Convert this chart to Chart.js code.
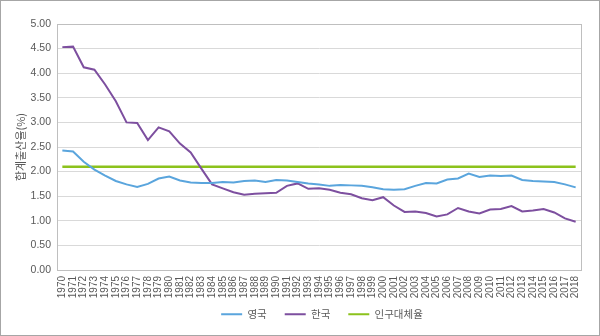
<!DOCTYPE html>
<html>
<head>
<meta charset="utf-8">
<script src="https://cdn.jsdelivr.net/npm/chart.js@4"></script>
<style>
  html, body { margin: 0; padding: 0; background: #fff; }
  #wrap { width: 600px; height: 336px; }
</style>
</head>
<body>
<div id="wrap"><canvas id="chart" width="600" height="336"></canvas></div>
<script>
const years = [];
for (let y = 1970; y <= 2018; y++) years.push(String(y));

// 영국 합계출산율
const ukRates = [
  2.43, 2.41, 2.20, 2.04, 1.92, 1.81, 1.74, 1.69, 1.75, 1.86,
  1.90, 1.82, 1.78, 1.77, 1.77, 1.79, 1.78, 1.81, 1.82, 1.79,
  1.83, 1.82, 1.79, 1.76, 1.74, 1.71, 1.73, 1.72, 1.71, 1.68,
  1.64, 1.63, 1.64, 1.71, 1.77, 1.76, 1.84, 1.86, 1.96, 1.89,
  1.92, 1.91, 1.92, 1.83, 1.81, 1.80, 1.79, 1.74, 1.68
];

// 한국 합계출산율
const koreaRates = [
  4.53, 4.54, 4.12, 4.07, 3.77, 3.43, 3.00, 2.99, 2.64, 2.90,
  2.82, 2.57, 2.39, 2.06, 1.74, 1.66, 1.58, 1.53, 1.55, 1.56,
  1.57, 1.71, 1.76, 1.65, 1.66, 1.63, 1.57, 1.54, 1.46, 1.42,
  1.48, 1.31, 1.18, 1.19, 1.16, 1.09, 1.13, 1.26, 1.19, 1.15,
  1.23, 1.24, 1.30, 1.19, 1.21, 1.24, 1.17, 1.05, 0.98
];

const replacementRate = 2.1;
const replacementLine = years.map(() => replacementRate);

const seriesNames = ['영국', '한국', '인구대체율'];

// plot frame + outer border
const frame = {
  id: 'frame',
  afterDraw(chart) {
    const { ctx, chartArea: a } = chart;
    ctx.save();
    ctx.strokeStyle = '#bfbfbf';
    ctx.lineWidth = 1;
    ctx.strokeRect(Math.round(a.left) + 0.5, Math.round(a.top) + 0.5,
      Math.round(a.right - a.left), Math.round(a.bottom - a.top));
    ctx.strokeStyle = '#a6a6a6';
    ctx.strokeRect(0.5, 0.5, chart.width - 1, chart.height - 1);
    ctx.restore();
  }
};

// pull the legend up a bit under the year labels
const legendNudge = {
  id: 'legendNudge',
  afterLayout(chart) {
    const l = chart.legend;
    l.top -= 9;
    l.bottom -= 9;
    l.left += 3;
    l.right += 3;
  }
};

const ctx = document.getElementById('chart').getContext('2d');
new Chart(ctx, {
  type: 'line',
  data: {
    labels: years,
    datasets: [
      { label: seriesNames[0], data: ukRates, borderColor: '#5aa5dd', backgroundColor: '#5aa5dd', borderWidth: 2 },
      { label: seriesNames[1], data: koreaRates, borderColor: '#7d4f9f', backgroundColor: '#7d4f9f', borderWidth: 2 },
      { label: seriesNames[2], data: replacementLine, borderColor: '#8cc21c', backgroundColor: '#8cc21c', borderWidth: 2.5 }
    ]
  },
  options: {
    responsive: false,
    animation: false,
    elements: { point: { radius: 0 }, line: { tension: 0 } },
    layout: { padding: { left: 0, right: 19, top: 24, bottom: 0 } },
    plugins: {
      legend: {
        position: 'bottom',
        fullSize: false,
        maxHeight: 36,
        labels: {
          boxWidth: 21, boxHeight: 0, padding: 18,
          color: '#595959',
          font: { family: 'Noto Sans CJK KR', size: 10.5 },
          generateLabels(chart) {
            return chart.data.datasets.map((d, i) => ({
              text: d.label, fillStyle: d.borderColor, strokeStyle: d.borderColor,
              lineWidth: 2, datasetIndex: i, fontColor: '#595959'
            }));
          }
        }
      },
      tooltip: { enabled: false }
    },
    scales: {
      x: {
        offset: true,
        grid: { display: false, drawTicks: false },
        border: { color: '#bfbfbf' },
        ticks: {
          autoSkip: false, minRotation: 90, maxRotation: 90, padding: 6,
          color: '#595959', font: { family: 'Liberation Sans', size: 10 }
        },
        afterFit(scale) { scale.height = 30; }
      },
      y: {
        min: 0, max: 5,
        grid: { color: '#d9d9d9', drawTicks: false },
        border: { color: '#bfbfbf' },
        ticks: {
          stepSize: 0.5, padding: 6,
          color: '#595959', font: { family: 'Liberation Sans', size: 10.5 },
          callback: v => v.toFixed(2)
        },
        title: {
          display: true, text: '합계출산율(%)', color: '#595959',
          font: { family: 'Noto Sans CJK KR', size: 11 },
          padding: { top: 14, bottom: 0 }
        },
        afterFit(scale) { scale.width = 57; }
      }
    }
  },
  plugins: [frame, legendNudge]
});
</script>
</body>
</html>
